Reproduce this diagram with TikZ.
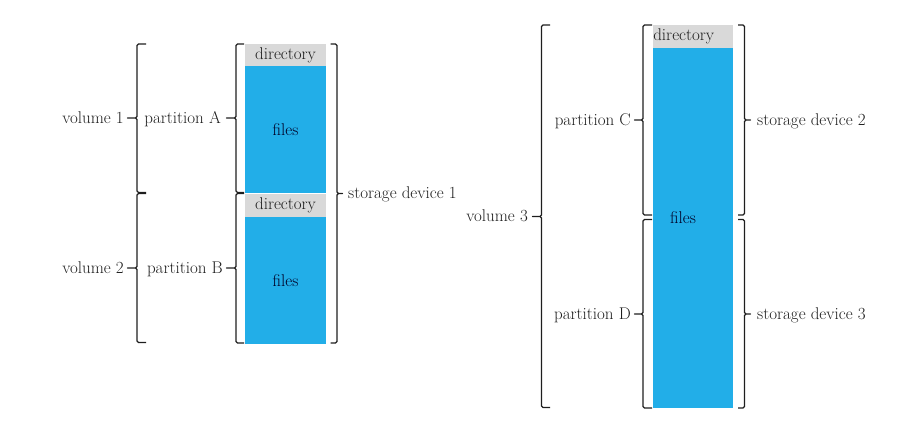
\documentclass[tikz,border=0pt]{standalone}
\usetikzlibrary{positioning}
\pgfdeclarelayer{edgelayer}
\pgfdeclarelayer{nodelayer}
\pgfsetlayers{edgelayer,nodelayer,main}
\definecolor{filesblue}{RGB}{34,174,232}
\definecolor{dirgray}{RGB}{217,217,217}
\definecolor{inkgray}{RGB}{30,30,30}
\tikzset{font=\fontsize{17}{20}\selectfont}
\tikzstyle{none}=[inner sep=0pt]
\tikzstyle{lbl}=[inner sep=0pt,text height=11pt,text depth=1pt,text=inkgray]
\tikzstyle{dirblock}=[rectangle,fill=dirgray,inner sep=0pt,minimum width=81pt,text=inkgray]
\tikzstyle{fileblock}=[rectangle,fill=filesblue,inner sep=0pt,minimum width=81pt,text=black!85!blue]
\tikzstyle{brack}=[draw=inkgray,line width=1.3pt,line join=round,rounded corners=1.5pt]

\begin{document}
\begin{tikzpicture}[x=1pt,y=-1pt]
	\useasboundingbox (0,0) rectangle (920,426);
	\begin{pgfonlayer}{nodelayer}
		% storage device 1
		\node [style=dirblock, minimum height=22pt] (dirA) at (285.5,55) {directory};
		\node [style=fileblock, minimum height=127pt, below=0pt of dirA] (filesA) {files};
		\node [style=dirblock, minimum height=23pt, below=0pt of filesA] (dirB) {directory};
		\node [style=fileblock, minimum height=127pt, below=0pt of dirB] (filesB) {files};
		% storage devices 2 and 3
		\node [style=dirblock, minimum width=80pt, minimum height=23pt] (dirC) at (693.3,36.5) {};
		\node [style=fileblock, minimum width=80pt, minimum height=360pt, below=0pt of dirC] (filesC) {};
		\node [style=none, anchor=west, text=inkgray] (dirCtext) at (dirC.west) {directory};
		\node [style=none, text=black!85!blue] (filesCtext) at (683,218) {files};
	\end{pgfonlayer}
	\begin{pgfonlayer}{edgelayer}
		% left brackets
		\draw[brack] (146,44) -- (137,44) -- (137,115) to[out=-90,in=0] (134,118) -- (126,118) coordinate (v1) -- (134,118) to[out=0,in=90] (137,121) -- (137,192.5) -- (146,192.5);
		\draw[brack] (146,193.5) -- (137,193.5) -- (137,265) to[out=-90,in=0] (134,268) -- (126,268) coordinate (v2) -- (134,268) to[out=0,in=90] (137,271) -- (137,342.5) -- (146,342.5);
		\draw[brack] (244,44) -- (236,44) -- (236,115) to[out=-90,in=0] (233,118) -- (225,118) coordinate (pA) -- (233,118) to[out=0,in=90] (236,121) -- (236,192.5) -- (244,192.5);
		\draw[brack] (244,193.5) -- (236,193.5) -- (236,265) to[out=-90,in=0] (233,268) -- (225,268) coordinate (pB) -- (233,268) to[out=0,in=90] (236,271) -- (236,343) -- (244,343);
		\draw[brack] (550,25) -- (541.5,25) -- (541.5,213.5) to[out=-90,in=0] (538.5,216.5) -- (531,216.5) coordinate (v3) -- (538.5,216.5) to[out=0,in=90] (541.5,219.5) -- (541.5,407.5) -- (550,407.5);
		\draw[brack] (652,25) -- (643,25) -- (643,117) to[out=-90,in=0] (640,120) -- (633,120) coordinate (pC) -- (640,120) to[out=0,in=90] (643,123) -- (643,215) -- (652,215);
		\draw[brack] (652,219.5) -- (643,219.5) -- (643,311) to[out=-90,in=0] (640,314) -- (633,314) coordinate (pD) -- (640,314) to[out=0,in=90] (643,317) -- (643,408) -- (652,408);
		% right brackets
		\draw[brack] (330.5,44) -- (337,44) -- (337,190.5) to[out=-90,in=180] (340,193.5) -- (344,193.5) coordinate (s1) -- (340,193.5) to[out=180,in=90] (337,196.5) -- (337,343) -- (330.5,343);
		\draw[brack] (738,25) -- (744.5,25) -- (744.5,117) to[out=-90,in=180] (747.5,120) -- (752,120) coordinate (s2) -- (747.5,120) to[out=180,in=90] (744.5,123) -- (744.5,215) -- (738,215);
		\draw[brack] (738,219.5) -- (744.5,219.5) -- (744.5,311) to[out=-90,in=180] (747.5,314) -- (752,314) coordinate (s3) -- (747.5,314) to[out=180,in=90] (744.5,317) -- (744.5,408) -- (738,408);
	\end{pgfonlayer}
	\node [style=lbl, left=2pt of v1] (vol1) {volume 1};
	\node [style=lbl, left=2pt of v2] (vol2) {volume 2};
	\node [style=lbl, left=4pt of pA] (partA) {partition A};
	\node [style=lbl, left=2pt of pB] (partB) {partition B};
	\node [style=lbl, left=3pt of v3] (vol3) {volume 3};
	\node [style=lbl, left=2pt of pC] (partC) {partition C};
	\node [style=lbl, left=2pt of pD] (partD) {partition D};
	\node [style=lbl, right=4pt of s1] (dev1) {storage device 1};
	\node [style=lbl, right=5pt of s2] (dev2) {storage device 2};
	\node [style=lbl, right=5pt of s3] (dev3) {storage device 3};
\end{tikzpicture}
\end{document}
